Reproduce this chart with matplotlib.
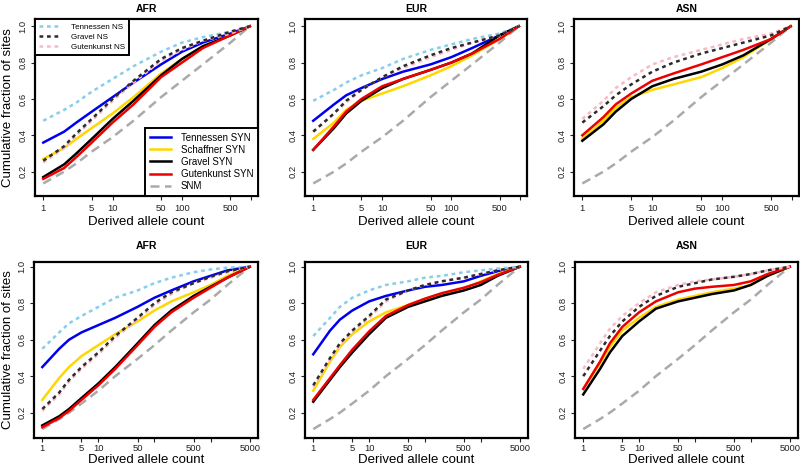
import numpy as np
import matplotlib
matplotlib.use("Agg")
import matplotlib.pyplot as plt
from matplotlib.lines import Line2D

plt.rcParams["font.family"] = ["Liberation Sans", "DejaVu Sans"]

# -----------------------------------------------------
# data
# -----------------------------------------------------
x_top = [1, 2, 3, 5, 10, 20, 50, 100, 200, 500, 950]
x_bot = [1, 2, 3, 5, 10, 20, 50, 100, 200, 500, 1000, 2000, 5000]

snm_top = [0.135, 0.20, 0.245, 0.31, 0.39, 0.48, 0.61, 0.70, 0.79, 0.91, 1.0]
snm_bot = [0.11, 0.165, 0.20, 0.25, 0.32, 0.40, 0.495, 0.57, 0.65, 0.75, 0.82, 0.90, 1.0]

afr_top = {
    "Tennessen NS":   [0.48, 0.54, 0.58, 0.64, 0.71, 0.78, 0.86, 0.91, 0.94, 0.97, 1.0],
    "Gutenkunst NS":  [0.25, 0.33, 0.40, 0.48, 0.59, 0.69, 0.81, 0.87, 0.92, 0.96, 1.0],
    "Gravel NS":      [0.26, 0.34, 0.41, 0.49, 0.60, 0.70, 0.82, 0.88, 0.92, 0.97, 1.0],
    "Tennessen SYN":  [0.36, 0.42, 0.47, 0.53, 0.61, 0.69, 0.79, 0.86, 0.91, 0.96, 1.0],
    "Schaffner SYN":  [0.27, 0.33, 0.38, 0.44, 0.52, 0.61, 0.74, 0.82, 0.89, 0.95, 1.0],
    "Gravel SYN":     [0.17, 0.24, 0.30, 0.38, 0.49, 0.59, 0.73, 0.82, 0.89, 0.95, 1.0],
    "Gutenkunst SYN": [0.16, 0.22, 0.28, 0.36, 0.47, 0.57, 0.72, 0.80, 0.88, 0.95, 1.0],
}
eur_top = {
    "Tennessen NS":   [0.59, 0.65, 0.69, 0.73, 0.77, 0.82, 0.87, 0.90, 0.93, 0.96, 1.0],
    "Gutenkunst NS":  [0.42, 0.52, 0.58, 0.65, 0.72, 0.77, 0.83, 0.87, 0.91, 0.95, 1.0],
    "Gravel NS":      [0.42, 0.52, 0.59, 0.65, 0.72, 0.78, 0.84, 0.88, 0.91, 0.95, 1.0],
    "Tennessen SYN":  [0.48, 0.57, 0.62, 0.66, 0.71, 0.75, 0.79, 0.83, 0.88, 0.95, 1.0],
    "Schaffner SYN":  [0.38, 0.47, 0.54, 0.59, 0.63, 0.67, 0.73, 0.78, 0.84, 0.93, 1.0],
    "Gutenkunst SYN": [0.32, 0.45, 0.53, 0.60, 0.67, 0.71, 0.76, 0.80, 0.85, 0.93, 1.0],
    "Gravel SYN":     [0.32, 0.44, 0.52, 0.59, 0.66, 0.71, 0.76, 0.80, 0.85, 0.95, 1.0],
}
asn_top = {
    "Gutenkunst NS":  [0.49, 0.59, 0.66, 0.72, 0.79, 0.83, 0.87, 0.90, 0.93, 0.96, 1.0],
    "Gravel NS":      [0.47, 0.56, 0.62, 0.68, 0.75, 0.80, 0.85, 0.88, 0.91, 0.95, 1.0],
    "Schaffner SYN":  [0.38, 0.48, 0.55, 0.61, 0.65, 0.68, 0.72, 0.77, 0.83, 0.93, 1.0],
    "Gravel SYN":     [0.37, 0.46, 0.53, 0.60, 0.67, 0.71, 0.75, 0.79, 0.84, 0.93, 1.0],
    "Gutenkunst SYN": [0.40, 0.50, 0.57, 0.63, 0.70, 0.74, 0.79, 0.83, 0.87, 0.93, 1.0],
}

afr_bot = {
    "Tennessen NS":   [0.55, 0.64, 0.69, 0.73, 0.78, 0.83, 0.87, 0.91, 0.94, 0.97, 0.985, 0.995, 1.0],
    "Gutenkunst NS":  [0.21, 0.30, 0.37, 0.44, 0.52, 0.61, 0.71, 0.79, 0.85, 0.91, 0.94, 0.97, 1.0],
    "Gravel NS":      [0.22, 0.31, 0.38, 0.45, 0.53, 0.62, 0.72, 0.80, 0.86, 0.91, 0.945, 0.975, 1.0],
    "Tennessen SYN":  [0.45, 0.55, 0.60, 0.64, 0.68, 0.72, 0.78, 0.83, 0.87, 0.92, 0.95, 0.98, 1.0],
    "Schaffner SYN":  [0.27, 0.39, 0.45, 0.51, 0.57, 0.63, 0.70, 0.76, 0.81, 0.86, 0.90, 0.95, 1.0],
    "Gutenkunst SYN": [0.12, 0.17, 0.21, 0.27, 0.35, 0.44, 0.57, 0.67, 0.75, 0.83, 0.885, 0.94, 1.0],
    "Gravel SYN":     [0.13, 0.18, 0.22, 0.28, 0.36, 0.45, 0.58, 0.68, 0.76, 0.84, 0.89, 0.94, 1.0],
}
eur_bot = {
    "Tennessen NS":   [0.62, 0.72, 0.78, 0.83, 0.87, 0.90, 0.92, 0.94, 0.95, 0.97, 0.98, 0.99, 1.0],
    "Gutenkunst NS":  [0.34, 0.49, 0.57, 0.64, 0.72, 0.81, 0.87, 0.90, 0.92, 0.94, 0.96, 0.98, 1.0],
    "Gravel NS":      [0.35, 0.50, 0.58, 0.65, 0.73, 0.82, 0.87, 0.90, 0.92, 0.94, 0.96, 0.98, 1.0],
    "Tennessen SYN":  [0.52, 0.65, 0.71, 0.76, 0.81, 0.84, 0.87, 0.89, 0.90, 0.92, 0.95, 0.975, 1.0],
    "Schaffner SYN":  [0.32, 0.48, 0.56, 0.63, 0.70, 0.75, 0.79, 0.82, 0.85, 0.88, 0.92, 0.96, 1.0],
    "Gutenkunst SYN": [0.27, 0.39, 0.46, 0.545, 0.645, 0.73, 0.79, 0.825, 0.855, 0.885, 0.915, 0.955, 1.0],
    "Gravel SYN":     [0.26, 0.38, 0.45, 0.53, 0.63, 0.72, 0.78, 0.81, 0.84, 0.87, 0.90, 0.95, 1.0],
}
asn_bot = {
    "Gutenkunst NS":  [0.44, 0.58, 0.66, 0.73, 0.80, 0.86, 0.90, 0.92, 0.93, 0.945, 0.96, 0.98, 1.0],
    "Gravel NS":      [0.40, 0.54, 0.62, 0.70, 0.78, 0.84, 0.89, 0.91, 0.93, 0.945, 0.96, 0.98, 1.0],
    "Schaffner SYN":  [0.33, 0.47, 0.56, 0.65, 0.72, 0.78, 0.82, 0.84, 0.86, 0.88, 0.90, 0.95, 1.0],
    "Gravel SYN":     [0.30, 0.44, 0.53, 0.62, 0.70, 0.77, 0.81, 0.83, 0.85, 0.87, 0.90, 0.95, 1.0],
    "Gutenkunst SYN": [0.33, 0.48, 0.58, 0.67, 0.75, 0.81, 0.86, 0.88, 0.89, 0.90, 0.92, 0.96, 1.0],
}

# -----------------------------------------------------
# styles
# -----------------------------------------------------
styles = {
    "Tennessen NS":   dict(color="#87CEEB", dashes=(1.5, 1.5)),
    "Gravel NS":      dict(color="#2b2b2b", dashes=(1.5, 1.5)),
    "Gutenkunst NS":  dict(color="#F9B8C4", dashes=(1.5, 1.5)),
    "Tennessen SYN":  dict(color="#0000EE"),
    "Schaffner SYN":  dict(color="#FFD700"),
    "Gravel SYN":     dict(color="black"),
    "Gutenkunst SYN": dict(color="#EE0000"),
    "SNM":            dict(color="#AAAAAA", dashes=(3.6, 2.2)),
}
LW = 1.8

W, H = 800, 468
def rect(l, t, r, b):
    return [l / W, 1 - b / H, (r - l) / W, (b - t) / H]

fig = plt.figure(figsize=(8, 4.68), dpi=100)

panels = [
    ("AFR", afr_top, x_top, snm_top, rect(35, 19, 258, 196), "top"),
    ("EUR", eur_top, x_top, snm_top, rect(305, 19, 527, 196), "top"),
    ("ASN", asn_top, x_top, snm_top, rect(574, 19, 799, 196), "top"),
    ("AFR", afr_bot, x_bot, snm_bot, rect(34, 262, 258, 438), "bot"),
    ("EUR", eur_bot, x_bot, snm_bot, rect(305, 262, 528, 438), "bot"),
    ("ASN", asn_bot, x_bot, snm_bot, rect(575, 262, 798, 438), "bot"),
]

draw_order = ["Tennessen SYN", "Schaffner SYN", "Gravel SYN", "Gutenkunst SYN",
              "Tennessen NS", "Gutenkunst NS", "Gravel NS"]

for i, (pop, series, xs, snm, pos, row) in enumerate(panels):
    ax = fig.add_axes(pos)
    ax.set_xscale("log")

    ax.plot(xs, snm, lw=LW, **styles["SNM"])
    for name in draw_order:
        if name in series:
            ax.plot(xs, series[name], lw=LW, **styles[name])

    lo, hi = np.log10(xs[0]), np.log10(xs[-1])
    pad = 0.04 * (hi - lo)
    ax.set_xlim(10 ** (lo - pad), 10 ** (hi + pad))
    if row == "top":
        ax.set_ylim(0.066, 1.04)
        ax.set_xticks([1, 5, 10, 50, 100, 500, 1000])
        ax.set_xticklabels(["1", "5", "10", "50", "100", "500", ""])
    else:
        ax.set_ylim(0.061, 1.026)
        ax.set_xticks([1, 5, 10, 50, 100, 500, 1000, 5000])
        ax.set_xticklabels(["1", "5", "10", "50", "", "500", "", "5000"])
    ax.xaxis.set_minor_locator(matplotlib.ticker.NullLocator())
    ax.set_yticks([0.2, 0.4, 0.6, 0.8, 1.0])
    ax.set_yticklabels(["0.2", "0.4", "0.6", "0.8", "1.0"], rotation=90, va="center")
    ax.tick_params(axis="both", labelsize=6.8, length=3, width=0.8, pad=2.5,
                   colors="#222222")
    if row == "bot":
        ax.tick_params(axis="x", pad=1.2)
    for s in ax.spines.values():
        s.set_linewidth(1.6)

    l, b, w, h = pos
    cx = l + w / 2
    if row == "top":
        fig.text(cx, 1 - 9 / H, pop, ha="center", va="center", fontsize=7.5, fontweight="bold")
        fig.text(cx, 1 - 222 / H, "Derived allele count", ha="center", va="center", fontsize=9.5)
    else:
        fig.text(cx, 1 - 246 / H, pop, ha="center", va="center", fontsize=7.5, fontweight="bold")
        fig.text(cx, 1 - 460 / H, "Derived allele count", ha="center", va="center", fontsize=9.5)
    if pop == "AFR":
        fig.text(8 / W, b + h / 2, "Cumulative fraction of sites", rotation=90,
                 ha="center", va="center", fontsize=9.5)

    if i == 0:
        ns_names = ["Tennessen NS", "Gravel NS", "Gutenkunst NS"]
        h_ns = [Line2D([], [], lw=LW, **styles[n]) for n in ns_names]
        leg1 = ax.legend(h_ns, ns_names, loc="upper left", fontsize=5.8,
                         borderaxespad=0, fancybox=False, framealpha=1,
                         edgecolor="black", handlelength=2.4, labelspacing=0.3,
                         handletextpad=1.6, borderpad=0.5)
        leg1.get_frame().set_linewidth(1.4)
        ax.add_artist(leg1)
        syn_names = ["Tennessen SYN", "Schaffner SYN", "Gravel SYN", "Gutenkunst SYN", "SNM"]
        h_syn = [Line2D([], [], lw=LW, **styles[n]) for n in syn_names]
        leg2 = ax.legend(h_syn, syn_names, loc="lower right", fontsize=7,
                         borderaxespad=0, fancybox=False, framealpha=1,
                         edgecolor="black", handlelength=2.2, labelspacing=0.22,
                         handletextpad=1.0, borderpad=0.5)
        leg2.get_frame().set_linewidth(1.4)

fig.savefig("out.png", dpi=100)
